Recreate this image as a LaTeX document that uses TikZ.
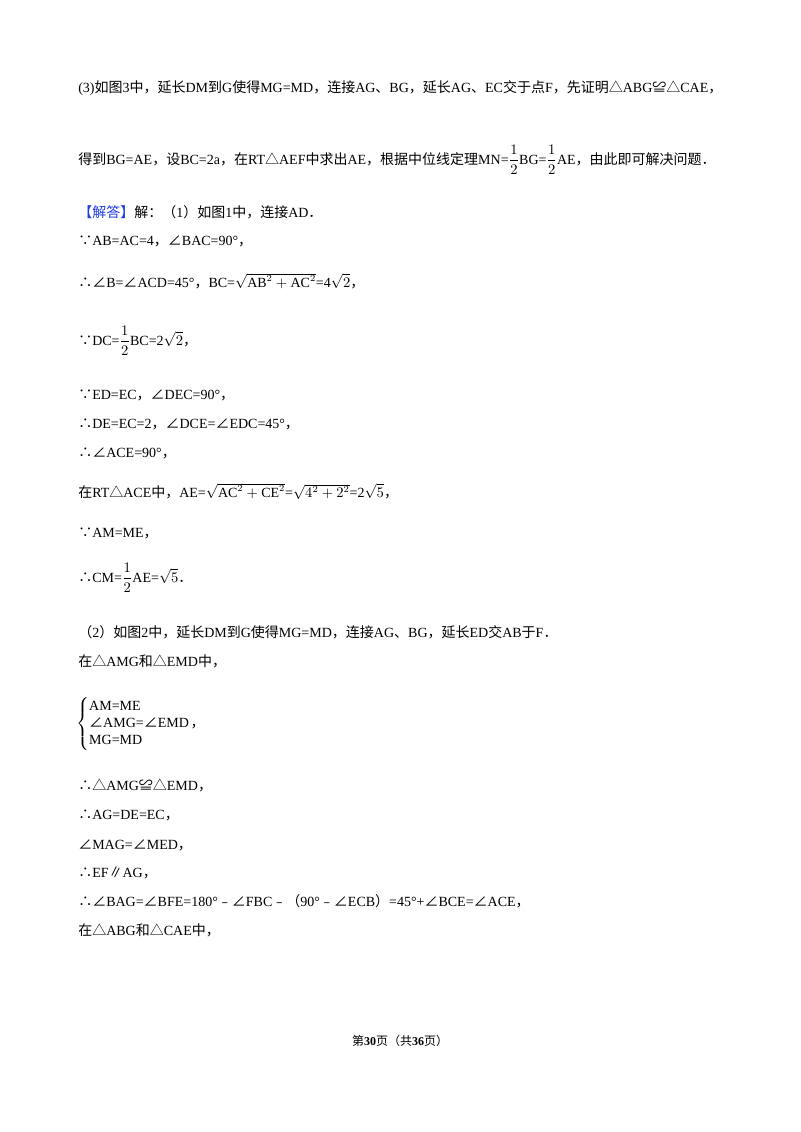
\documentclass[tikz,border=0pt]{standalone}
\usepackage{amsmath}
\usepackage{fontspec}
\setmainfont{Liberation Serif}
\newfontfamily\cjk{Noto Sans CJK SC}
\newXeTeXintercharclass\cjkclass
\newcount\cc
\def\setrange#1#2{\cc=#1 \loop \XeTeXcharclass\cc=\cjkclass \advance\cc 1 \ifnum\cc<#2 \repeat}
\setrange{"4E00}{"A000}
\setrange{"3000}{"3040}
\setrange{"FF00}{"FFF0}
\setrange{"2200}{"2300}
\setrange{"25A0}{"2600}
\setrange{"FE30}{"FE70}
\XeTeXinterchartoks 0 \cjkclass = {\cjk}
\XeTeXinterchartoks 4095 \cjkclass = {\cjk}
\XeTeXinterchartoks \cjkclass 0 = {\normalfont}
\XeTeXinterchartoks \cjkclass 4095 = {\normalfont}
\XeTeXinterchartokenstate=1
\definecolor{ansblue}{RGB}{30,60,230}
\tikzset{t/.style={anchor=base west,inner sep=0pt,font=\fontsize{10.5}{13}\selectfont}}
\newcommand\hf{\dfrac{1}{2}}
\begin{document}
\begin{tikzpicture}[x=0.75pt,y=-0.75pt]
\useasboundingbox[fill=white] (0,0) rectangle (800,1132);
\node[t] (l1) at (78,92) {(3)如图3中，延长DM到G使得MG=MD，连接AG、BG，延长AG、EC交于点F，先证明△ABG≌△CAE，};
\node[t] (l2) at (78,164) {得到BG=AE，设BC=2a，在RT△AEF中求出AE，根据中位线定理MN=$\hf$BG=$\hf$AE，由此即可解决问题．};
\node[t] (l3) at (78,217) {\textcolor{ansblue}{【解答】}解：（1）如图1中，连接AD．};
\node[t] (l4) at (78,245) {∵AB=AC=4，∠BAC=90°，};
\node[t] (l5) at (78,287) {∴∠B=∠ACD=45°，BC=$\sqrt{\mathrm{AB}^2+\mathrm{AC}^2}$=4$\sqrt{2}$，};
\node[t] (l6) at (78,345) {∵DC=$\hf$BC=2$\sqrt{2}$，};
\node[t] (l7) at (78,399) {∵ED=EC，∠DEC=90°，};
\node[t] (l8) at (78,428) {∴DE=EC=2，∠DCE=∠EDC=45°，};
\node[t] (l9) at (78,457) {∴∠ACE=90°，};
\node[t] (l10) at (78,497) {在RT△ACE中，AE=$\sqrt{\mathrm{AC}^2+\mathrm{CE}^2}$=$\sqrt{4^2+2^2}$=2$\sqrt{5}$，};
\node[t] (l11) at (78,537) {∵AM=ME，};
\node[t] (l12) at (78,582) {∴CM=$\hf$AE=$\sqrt{5}$．};
\node[t] (l13) at (78,637) {（2）如图2中，延长DM到G使得MG=MD，连接AG、BG，延长ED交AB于F．};
\node[t] (l14) at (78,666) {在△AMG和△EMD中，};
\node[anchor=west,inner sep=0pt,font=\fontsize{10.5}{13}\selectfont] (sys) at (76,724) {$\left\{\begin{array}{@{}l@{}}\mbox{AM=ME}\\ \mbox{∠AMG=∠EMD}\\ \mbox{MG=MD}\end{array}\right.$，};
\node[t] (l15) at (78,790) {∴△AMG≌△EMD，};
\node[t] (l16) at (78,819) {∴AG=DE=EC，};
\node[t] (l17) at (78,849) {∠MAG=∠MED，};
\node[t] (l18) at (78,877) {∴EF∥AG，};
\node[t] (l19) at (78,906) {∴∠BAG=∠BFE=180°﹣∠FBC﹣（90°﹣∠ECB）=45°+∠BCE=∠ACE，};
\node[t] (l20) at (78,935) {在△ABG和△CAE中，};
\node[anchor=base,inner sep=0pt,font=\fontsize{9}{11}\selectfont] (ft) at (400,1045) {第\textbf{30}页（共\textbf{36}页）};
\end{tikzpicture}
\end{document}
